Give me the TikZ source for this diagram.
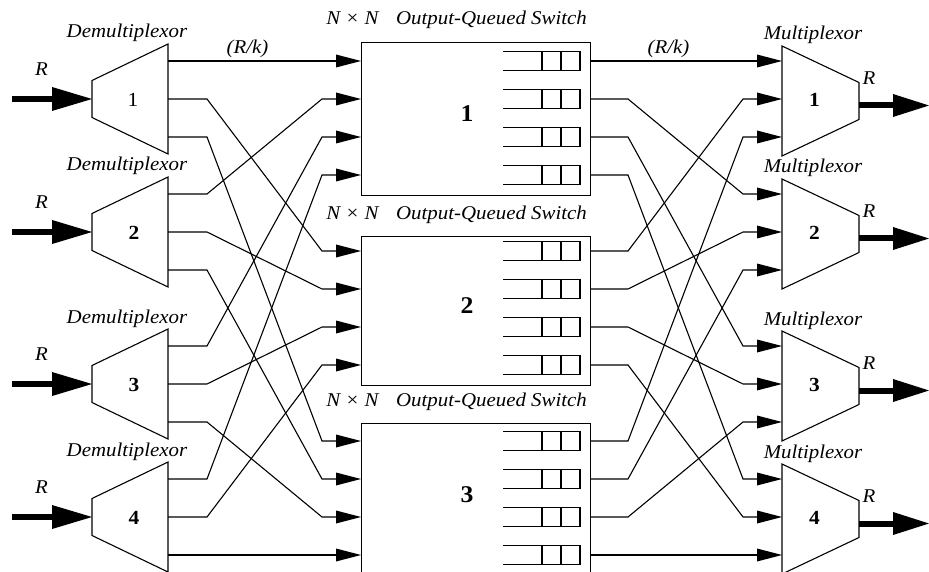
\documentclass[tikz,border=0pt]{standalone}
\usepackage{fontspec}
\setmainfont{Liberation Serif}[FakeStretch=1.07]
\usetikzlibrary{arrows.meta}
\begin{document}
\begin{tikzpicture}[x=1pt, y=-1pt,
  body/.style={line width=1.1pt, line join=miter},
  wire/.style={line width=1.1pt, -{Triangle[length=25pt,width=13pt,line width=0pt]}},
  fatin/.style={line width=6.5pt, -{Triangle[length=40pt,width=24pt,line width=0pt]}},
  fatout/.style={line width=6pt, -{Triangle[length=36pt,width=23pt,line width=0pt]}},
  swbox/.style={draw, line width=1.1pt, minimum width=229pt, inner sep=0pt},
  lbl/.style={font=\fontsize{19.5}{21}\selectfont\itshape, inner sep=0pt},
  num/.style={font=\fontsize{20}{22}\selectfont\bfseries, inner sep=0pt},
  bignum/.style={font=\fontsize{24}{26}\selectfont\bfseries, inner sep=0pt},
]
\useasboundingbox (0,0) rectangle (929,572);
\clip (0,0) rectangle (929,572);

% demultiplexors (left) and multiplexors (right)
\foreach \i/\m in {1/99,2/232,3/384,4/517}{
  \draw[body] (168,{\m-55}) -- (168,{\m+55}) -- (92,{\m+18.5}) -- (92,{\m-18.5}) -- cycle;
  \foreach \j in {1,2,3} \coordinate (d\i-o\j) at (168,{\m+(\j-2)*38});
  \coordinate (d\i-in) at (92,\m);
  \coordinate (src\i) at (12,\m);
  \node[lbl, anchor=base] (dl\i) at (127,{\m-61}) {Demultiplexor};
  \node[lbl] (ri\i) at (41.5,{\m-30}) {R};

  \draw[body] (782,{\m-53}) -- (782,{\m+57}) -- (859,{\m+20.5}) -- (859,{\m-16.5}) -- cycle;
  \foreach \j in {1,2,3} \coordinate (m\i-i\j) at (782,{\m+(\j-2)*38});
  \coordinate (m\i-out) at (859,{\m+6.5});
  \coordinate (dst\i) at (929,{\m+6.5});
  \node[lbl, anchor=base] (ml\i) at (813,{\m-59}) {Multiplexor};
  \node[lbl] (ro\i) at (869,{\m-20.5}) {R};
  \node[num] (mn\i) at (814.5,{\m+1}) {\i};
}
\node[inner sep=0pt, font=\fontsize{20}{22}\selectfont] (dn1) at (133,100) {1};
\node[num] (dn2) at (134,232.5) {2};
\node[num] (dn3) at (134,384.5) {3};
\node[num] (dn4) at (134,517.5) {4};

% output-queued switches with their output queues
\foreach \j/\yt/\h/\first/\yn in {1/42/153/61/113.5, 2/236/149/251/305.5, 3/423/153/441/494.5}{
  \node[swbox, minimum height=\h pt, anchor=north west] (sw\j) at (361,\yt) {};
  \node[bignum] (sn\j) at (467,\yn) {\j};
  \node[lbl, anchor=base east] (st\j) at (587,{\yt-17}) {N × N\hspace{0.9em}Output-Queued Switch};
  \foreach \i in {1,...,4}{
    \coordinate (s\j-i\i) at (361,{\first+(\i-1)*38});
    \coordinate (s\j-o\i) at (590,{\first+(\i-1)*38});
    \draw[body] (503,{\first+(\i-1)*38-9.5}) -- (580,{\first+(\i-1)*38-9.5})
                -- (580,{\first+(\i-1)*38+9.5}) -- (503,{\first+(\i-1)*38+9.5});
    \draw[body] (542,{\first+(\i-1)*38-9.5}) -- (542,{\first+(\i-1)*38+9.5});
    \draw[body] (561,{\first+(\i-1)*38-9.5}) -- (561,{\first+(\i-1)*38+9.5});
  }
}

% rate labels
\node[lbl] (rk1) at (247.5,49) {(R/k)};
\node[lbl] (rk2) at (668.5,49) {(R/k)};

% demultiplexor i, output j  ->  switch j, input i
\foreach \i in {1,...,4}{
  \foreach \j in {1,2,3}{
    \draw[wire] (d\i-o\j) -- ++(39,0) -- ([xshift=-39pt]s\j-i\i) -- (s\j-i\i);
  }
}
% switch j, output i  ->  multiplexor i, input j
\foreach \j in {1,2,3}{
  \foreach \i in {1,...,4}{
    \draw[wire] (s\j-o\i) -- ++(38,0) -- ([xshift=-39pt]m\i-i\j) -- (m\i-i\j);
  }
}

% line-rate inputs and outputs
\foreach \i in {1,...,4}{
  \draw[fatin] (src\i) -- (d\i-in);
  \draw[fatout] (m\i-out) -- (dst\i);
}
\end{tikzpicture}
\end{document}
